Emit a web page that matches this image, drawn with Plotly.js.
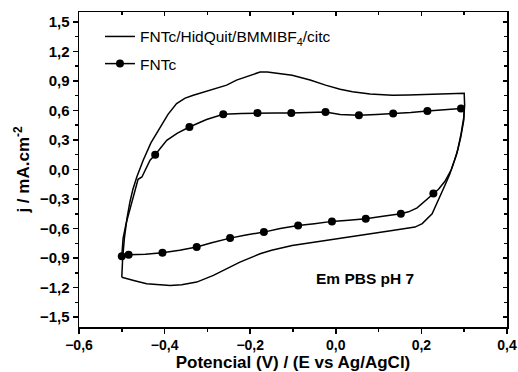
<!DOCTYPE html>
<html>
<head>
<meta charset="utf-8">
<script src="https://cdn.plot.ly/plotly-3.0.1.min.js"></script>
<style>html,body{margin:0;padding:0;background:#fff;}#chart{width:518px;height:372px;}</style>
</head>
<body>
<div id="chart"></div>
<script>
// Series 1: FNTc/HidQuit/BMMIBF4/citc (potential V, current density mA/cm2)
const hidX = [-0.500,-0.498,-0.494,-0.488,-0.481,-0.474,-0.465,-0.450,-0.432,-0.411,-0.392,-0.372,-0.352,-0.333,-0.294,-0.255,-0.232,-0.200,-0.177,-0.160,-0.130,-0.102,-0.060,-0.024,0.010,0.039,0.080,0.132,0.170,0.210,0.260,0.300,
  0.301,0.299,0.293,0.285,0.277,0.266,0.254,0.239,0.225,0.202,0.185,0.132,0.054,-0.024,-0.102,-0.150,-0.177,-0.224,-0.255,-0.286,-0.325,-0.360,-0.387,-0.415,-0.442,-0.470,-0.489,-0.500];
const hidY = [-1.095,-0.90,-0.70,-0.50,-0.33,-0.20,-0.076,0.094,0.27,0.43,0.56,0.67,0.725,0.755,0.806,0.857,0.908,0.955,0.99,0.99,0.975,0.958,0.91,0.857,0.815,0.789,0.768,0.755,0.758,0.765,0.77,0.775,
  0.65,0.53,0.37,0.20,0.09,-0.05,-0.17,-0.31,-0.45,-0.55,-0.585,-0.619,-0.669,-0.72,-0.771,-0.82,-0.856,-0.941,-1.01,-1.076,-1.144,-1.17,-1.178,-1.17,-1.161,-1.13,-1.105,-1.095];

// Series 2: FNTc (full line)
const fntX = [-0.500,-0.497,-0.490,-0.482,-0.472,-0.462,-0.453,-0.434,-0.422,-0.395,-0.370,-0.342,-0.302,-0.263,-0.220,-0.183,-0.140,-0.104,-0.060,-0.024,0.010,0.054,0.095,0.134,0.175,0.214,0.255,0.2925,0.300,
  0.299,0.292,0.282,0.270,0.255,0.240,0.228,0.210,0.190,0.170,0.152,0.110,0.070,0.030,-0.009,-0.050,-0.088,-0.130,-0.168,-0.210,-0.247,-0.290,-0.325,-0.365,-0.405,-0.445,-0.484,-0.500];
const fntY = [-0.88,-0.70,-0.55,-0.415,-0.25,-0.10,-0.076,0.094,0.15,0.297,0.37,0.432,0.508,0.561,0.57,0.575,0.575,0.575,0.58,0.585,0.56,0.551,0.56,0.568,0.58,0.595,0.61,0.62,0.61,
  0.50,0.33,0.15,0.0,-0.12,-0.20,-0.245,-0.32,-0.39,-0.43,-0.449,-0.475,-0.50,-0.515,-0.527,-0.55,-0.568,-0.60,-0.636,-0.665,-0.697,-0.745,-0.788,-0.82,-0.846,-0.86,-0.866,-0.88];

// Series 2 marker positions
const fntMarkX = [-0.422,-0.342,-0.263,-0.183,-0.104,-0.024,0.054,0.134,0.214,0.2925,0.228,0.152,0.070,-0.009,-0.088,-0.168,-0.247,-0.325,-0.405,-0.484,-0.500];
const fntMarkY = [0.15,0.432,0.561,0.575,0.575,0.585,0.551,0.568,0.595,0.62,-0.245,-0.449,-0.50,-0.527,-0.568,-0.636,-0.697,-0.788,-0.846,-0.866,-0.88];

const xTickVals = [-0.6,-0.4,-0.2,0.0,0.2,0.4];
const yTickVals = [-1.5,-1.2,-0.9,-0.6,-0.3,0.0,0.3,0.6,0.9,1.2,1.5];

const seriesNames = ['FNTc/HidQuit/BMMIBF<sub>4</sub>/citc', 'FNTc'];
const annotationText = 'Em PBS pH 7';
const xTitle = 'Potencial (V) / (E vs Ag/AgCl)';
const yTitle = 'j / mA.cm<sup>-2</sup>';

// build isolated marker arrays (nulls between points so no connecting segments)
const mx = [], my = [];
fntMarkX.forEach((v, i) => { mx.push(v, null); my.push(fntMarkY[i], null); });

const FONT = 'Arial, "Liberation Sans", sans-serif';

const traces = [
  {x: hidX, y: hidY, mode: 'lines', name: seriesNames[0], line: {color: '#000', width: 1.5}, legendgroup: 'a'},
  {x: fntX, y: fntY, mode: 'lines', showlegend: false, line: {color: '#000', width: 1.5}, legendgroup: 'b'},
  {x: mx, y: my, mode: 'lines+markers', connectgaps: false, name: seriesNames[1], line: {color: '#000', width: 1.5},
   marker: {color: '#000', size: 8, symbol: 'circle'}, legendgroup: 'b'},
  {x: [], y: [], xaxis: 'x2', yaxis: 'y2', showlegend: false, hoverinfo: 'skip'}
];

const xr = [-0.6, 0.4], yr = [-1.6, 1.6];
const axCommon = {showgrid: false, zeroline: false, linecolor: '#000', linewidth: 1.5, ticklen: 5, tickwidth: 1.5, tickcolor: '#000'};

const layout = {
  width: 518, height: 372,
  margin: {l: 79, r: 11, t: 12, b: 45},
  paper_bgcolor: '#fff', plot_bgcolor: '#fff',
  separators: ',.',
  font: {family: FONT, color: '#000', size: 14},
  showlegend: true,
  legend: {x: 0.049, y: 0.975, xanchor: 'left', yanchor: 'top', bgcolor: 'rgba(0,0,0,0)', font: {family: FONT, size: 15.5, color: '#000'}, tracegroupgap: 4},
  xaxis: Object.assign({}, axCommon, {range: xr, tickvals: xTickVals, tickformat: '.1f', ticks: 'outside', showline: true,
    tickfont: {family: FONT, size: 14, color: '#000', weight: 'bold'},
    minor: {dtick: 0.1, tick0: 0, ticks: 'outside', ticklen: 3, tickwidth: 1.5, tickcolor: '#000'},
    title: {text: '<b>' + xTitle + '</b>', font: {family: FONT, size: 17, color: '#000'}, standoff: 8}}),
  yaxis: Object.assign({}, axCommon, {range: yr, tickvals: yTickVals, tickformat: '.1f', ticks: 'outside', showline: true,
    tickfont: {family: FONT, size: 15, color: '#000', weight: 'bold'},
    minor: {dtick: 0.15, tick0: 0, ticks: 'outside', ticklen: 3, tickwidth: 1.5, tickcolor: '#000'},
    title: {text: '<b>' + yTitle + '</b>', font: {family: FONT, size: 17, color: '#000'}, standoff: 6}}),
  xaxis2: Object.assign({}, axCommon, {range: xr, overlaying: 'x', side: 'top', anchor: 'y2', showticklabels: false, showline: true,
    dtick: 0.2, tick0: 0, ticks: 'inside', ticklen: 4,
    minor: {dtick: 0.1, tick0: 0, ticks: 'inside', ticklen: 3, tickwidth: 1.5, tickcolor: '#000'}}),
  yaxis2: Object.assign({}, axCommon, {range: yr, overlaying: 'y', side: 'right', anchor: 'x2', showticklabels: false, showline: true,
    dtick: 0.3, tick0: 0, ticks: 'inside', ticklen: 4,
    minor: {dtick: 0.15, tick0: 0, ticks: 'inside', ticklen: 3, tickwidth: 1.5, tickcolor: '#000'}}),
  annotations: [{x: 0.068, y: -1.107, xref: 'x', yref: 'y', text: '<b>' + annotationText + '</b>', showarrow: false,
    font: {family: FONT, size: 15.5, color: '#000'}}]
};

Plotly.newPlot('chart', traces, layout, {displayModeBar: false, staticPlot: true});
</script>
</body>
</html>
